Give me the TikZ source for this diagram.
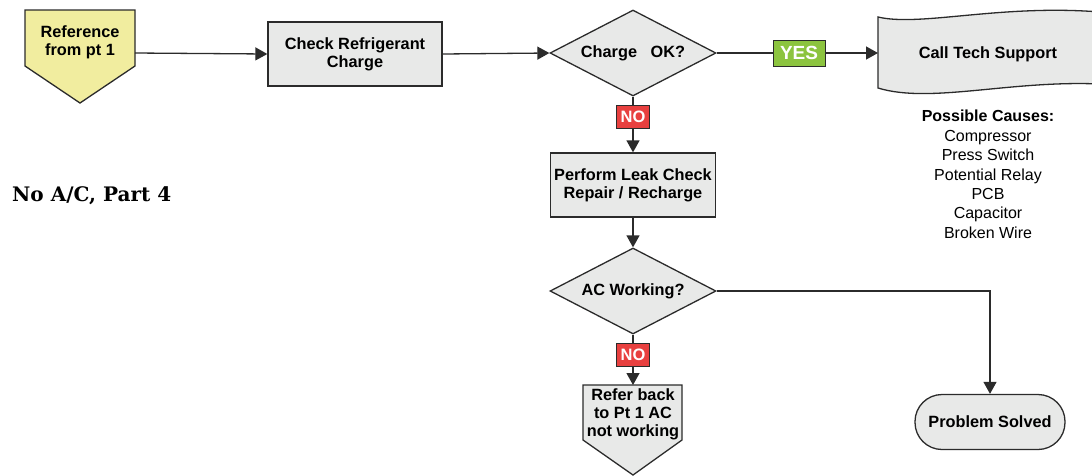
\documentclass[tikz,border=0pt]{standalone}
\usepackage{fontspec}
\setmainfont{Liberation Sans}
\newfontfamily\titlefont{DejaVu Serif}
\usetikzlibrary{shapes.geometric,arrows.meta}
\definecolor{boxgray}{HTML}{E8E9E8}
\definecolor{edgecol}{HTML}{2B2B2B}
\definecolor{refyellow}{HTML}{F1ED9F}
\definecolor{yesgreen}{HTML}{8CC43F}
\definecolor{nored}{HTML}{E8403F}
\begin{document}
\begin{tikzpicture}[x=1pt,y=-1pt,
  font=\bfseries\fontsize{16.3}{18}\selectfont,
  shapeline/.style={draw=edgecol, line width=1.3pt, line join=miter},
  box/.style={shapeline, fill=boxgray, align=center, inner sep=0pt},
  decision/.style={box, diamond, aspect=1.93, minimum width=166pt, minimum height=86pt},
  tag/.style={draw=edgecol, line width=0.8pt, text=white, inner sep=0pt,
    minimum height=23pt, minimum width=33pt, font=\bfseries\fontsize{16.5}{18}\selectfont},
  conn/.style={draw=edgecol, line width=1.3pt},
  arr/.style={conn, -{Triangle[length=12pt,width=13pt]}},
  plain/.style={align=center, inner sep=0pt},
]
\path[use as bounding box] (0,0) rectangle (1092,475);
\clip (0,0) rectangle (1092,475);

% Reference pentagon
\draw[shapeline, fill=refyellow] (25,10) -- (135,10) -- (135,66) -- (80,103) -- (25,66) -- cycle;
\node[plain] (ref) at (80,42) {Reference\\from pt 1};
\coordinate (refR) at (135,53);

% Check refrigerant
\node[box, minimum width=174pt, minimum height=64pt] (chk) at (355,54) {Check Refrigerant\\Charge};

% Decision 1
\node[decision] (d1) at (633,53) {Charge\ \ \ OK?};

% YES tag
\node[tag, fill=yesgreen, minimum width=52pt, minimum height=26pt,
  font=\bfseries\fontsize{19}{20}\selectfont] (yes) at (799,53) {YES};

% Wave shape
\draw[shapeline, fill=boxgray] (878,17) .. controls (920,27) and (1000,4) .. (1100,12)
  -- (1100,84) .. controls (1010,80) and (930,104) .. (878,88) -- cycle;
\node[plain] (tech) at (988,54) {Call Tech Support};
\coordinate (techL) at (878,53);

% Possible causes
\node[plain, font=\fontsize{16}{19.4}\selectfont, anchor=north] (causes) at (988,110)
  {\textbf{Possible Causes:}\\Compressor\\Press Switch\\Potential Relay\\PCB\\Capacitor\\Broken Wire};

% NO 1
\node[tag, fill=nored] (no1) at (633,116.5) {NO};

% Perform leak check
\node[box, minimum width=165pt, minimum height=64pt] (leak) at (633,185) {Perform Leak Check\\Repair / Recharge};

% Decision 2
\node[decision] (d2) at (633,291) {AC Working?};

% NO 2
\node[tag, fill=nored] (no2) at (633,354.5) {NO};

% Refer back pentagon
\draw[shapeline, fill=boxgray] (583,385) -- (682,385) -- (682,440) -- (633,475) -- (583,440) -- cycle;
\node[plain] (back) at (633,414) {Refer back\\to Pt 1 AC\\not working};
\coordinate (backT) at (633,385);

% Problem solved
\node[box, rounded corners=27pt, minimum width=150pt, minimum height=55pt] (solved) at (990,422) {Problem Solved};

% Title
\node[anchor=west, inner sep=0pt, font=\titlefont\bfseries\fontsize{20}{22}\selectfont] (title) at (12,196) {No A/C, Part 4};

% Connectors
\draw[arr] (refR) -- (chk.west);
\draw[arr] (chk.east) -- (d1.west);
\draw[conn] (d1.east) -- (yes.west);
\draw[arr] (yes.east) -- (techL);
\draw[conn] (d1.south) -- (no1.north);
\draw[arr] (no1.south) -- (leak.north);
\draw[arr] (leak.south) -- (d2.north);
\draw[conn] (d2.south) -- (no2.north);
\draw[arr] (no2.south) -- (backT);
\draw[arr] (d2.east) -| (solved.north);
\end{tikzpicture}
\end{document}
